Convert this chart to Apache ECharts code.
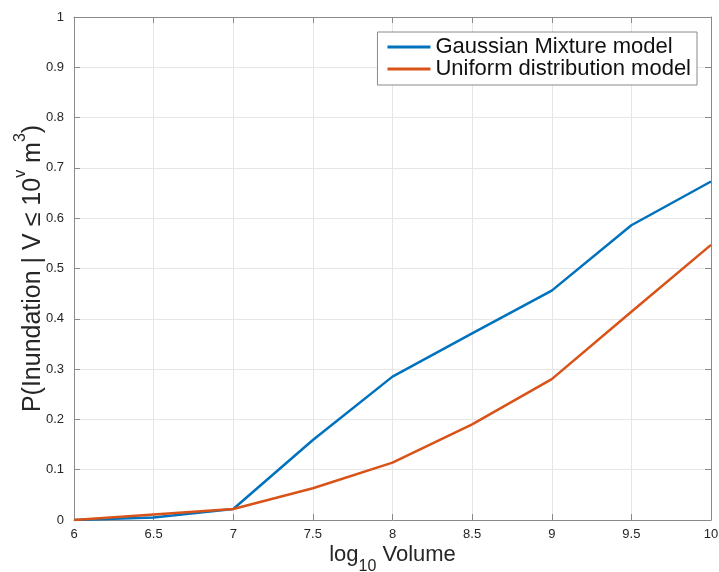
<!DOCTYPE html>
<html>
<head>
<meta charset="utf-8">
<script src="https://cdn.jsdelivr.net/npm/echarts@6/dist/echarts.min.js"></script>
<style>
  html, body { margin: 0; padding: 0; background: #fff; }
  #chart { width: 719px; height: 572px; }
</style>
</head>
<body>
<div id="chart"></div>
<script>
// log10 of volume (m^3) at which the probability was evaluated
const volumes = [6, 6.5, 7, 7.5, 8, 8.5, 9, 9.5, 10];
// P(Inundation | V <= 10^v m^3) for each model
const gaussianMixture = [0, 0.005, 0.022, 0.159, 0.285, 0.371, 0.456, 0.586, 0.673];
const uniformDist = [0, 0.011, 0.022, 0.063, 0.114, 0.190, 0.280, 0.414, 0.547];
const seriesNames = ['Gaussian Mixture model', 'Uniform distribution model'];

const FONT = '"Liberation Sans", Arial, Helvetica, sans-serif';
const AXIS_COLOR = '#8a8a8a';
const TEXT_COLOR = '#262626';
const GRID_COLOR = '#e6e6e6';

const pairs = (ys) => volumes.map((v, i) => [v, ys[i]]);

const chart = echarts.init(document.getElementById('chart'), null, { renderer: 'canvas' });

const tickLabel = { color: TEXT_COLOR, fontFamily: FONT, fontSize: 13 };

chart.setOption({
  backgroundColor: '#ffffff',
  animation: false,
  grid: { left: 74, right: 8, top: 17, bottom: 52, show: false, outerBoundsMode: 'none', containLabel: false },
  legend: {
    data: seriesNames,
    orient: 'vertical',
    right: 22,
    top: 32,
    padding: [4, 6, 5, 10],
    icon: 'rect',
    itemWidth: 43,
    itemHeight: 3,
    itemGap: 0,
    backgroundColor: '#ffffff',
    borderColor: '#8a8a8a',
    borderWidth: 1,
    textStyle: { color: '#111', fontFamily: FONT, fontSize: 22, lineHeight: 22 }
  },
  xAxis: [
    {
      type: 'value',
      min: 6, max: 10, interval: 0.5,
      position: 'bottom',
      name: '{a|log}{sub|10}{a| Volume}',
      nameLocation: 'middle',
      nameGap: 24,
      nameMoveOverlap: false,
      nameTextStyle: {
        color: TEXT_COLOR,
        fontFamily: FONT,
        rich: {
          a: { fontSize: 22, lineHeight: 22, verticalAlign: 'top', fontFamily: FONT, color: TEXT_COLOR },
          sub: { fontSize: 16, lineHeight: 46, fontFamily: FONT, color: TEXT_COLOR }
        }
      },
      axisLine: { show: true, onZero: false, lineStyle: { color: AXIS_COLOR, width: 1 } },
      axisTick: { show: true, inside: true, length: 6, lineStyle: { color: AXIS_COLOR } },
      axisLabel: Object.assign({ margin: 8 }, tickLabel),
      splitLine: { show: true, lineStyle: { color: GRID_COLOR, width: 1 } }
    },
    {
      type: 'value',
      min: 6, max: 10, interval: 0.5,
      position: 'top',
      axisLine: { show: true, onZero: false, lineStyle: { color: AXIS_COLOR, width: 1 } },
      axisTick: { show: true, inside: true, length: 6, lineStyle: { color: AXIS_COLOR } },
      axisLabel: { show: false },
      splitLine: { show: false }
    }
  ],
  yAxis: [
    {
      type: 'value',
      min: 0, max: 1, interval: 0.1,
      position: 'left',
      name: '{a|P(Inundation | V ≤ 10}{sup|v}{a| m}{sup|3}{a|)}',
      nameLocation: 'middle',
      nameGap: 21,
      nameMoveOverlap: false,
      nameTextStyle: {
        color: TEXT_COLOR,
        fontFamily: FONT,
        rich: {
          a: { fontSize: 25, lineHeight: 40, fontFamily: FONT, color: TEXT_COLOR },
          sup: { fontSize: 16, lineHeight: 15, verticalAlign: 'top', fontFamily: FONT, color: TEXT_COLOR }
        }
      },
      axisLine: { show: true, onZero: false, lineStyle: { color: AXIS_COLOR, width: 1 } },
      axisTick: { show: true, inside: true, length: 6, lineStyle: { color: AXIS_COLOR } },
      axisLabel: Object.assign({ margin: 10 }, tickLabel),
      splitLine: { show: true, lineStyle: { color: GRID_COLOR, width: 1 } }
    },
    {
      type: 'value',
      min: 0, max: 1, interval: 0.1,
      position: 'right',
      axisLine: { show: true, onZero: false, lineStyle: { color: AXIS_COLOR, width: 1 } },
      axisTick: { show: true, inside: true, length: 6, lineStyle: { color: AXIS_COLOR } },
      axisLabel: { show: false },
      splitLine: { show: false }
    }
  ],
  series: [
    {
      name: seriesNames[0],
      type: 'line',
      data: pairs(gaussianMixture),
      symbol: 'none',
      showSymbol: false,
      color: '#0072BD',
      lineStyle: { color: '#0072BD', width: 2.5 },
      z: 3
    },
    {
      name: seriesNames[1],
      type: 'line',
      data: pairs(uniformDist),
      symbol: 'none',
      showSymbol: false,
      color: '#D95319',
      lineStyle: { color: '#D95319', width: 2.5 },
      z: 4
    }
  ]
});
</script>
</body>
</html>
